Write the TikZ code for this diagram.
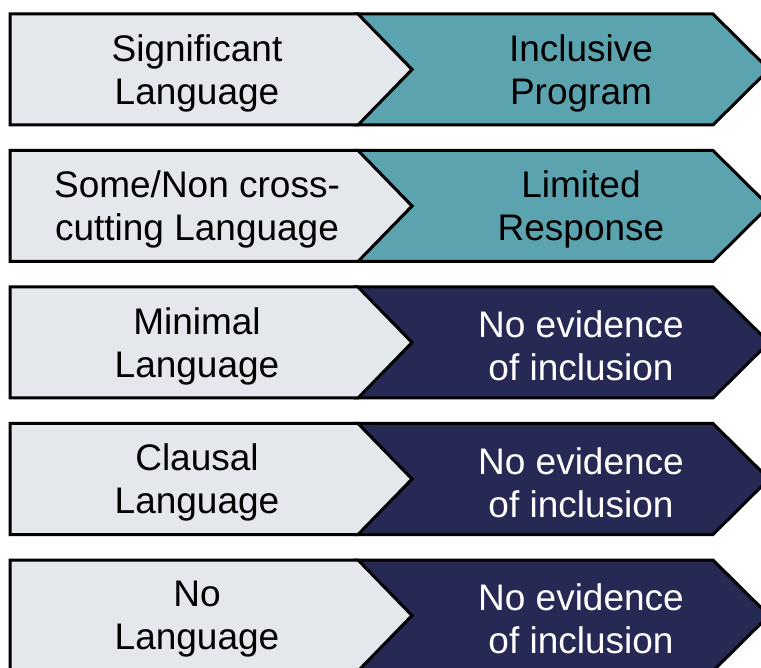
\documentclass[tikz,border=0pt]{standalone}
\usepackage{fontspec}
\setmainfont{Liberation Sans}
\definecolor{paleGray}{HTML}{E4E7EC}
\definecolor{tealFill}{HTML}{5BA3AE}
\definecolor{navyFill}{HTML}{272955}
\begin{document}
\begin{tikzpicture}[x=1pt,y=-1pt,
  outline/.style={draw=black,line width=3pt,line join=miter},
  label/.style={font=\fontsize{37}{43}\selectfont,align=center,inner sep=0pt}]
\useasboundingbox (0,0) rectangle (761,668);
\begin{scope}
\clip (0,0) rectangle (761,668);
% one row: #1 top edge, #2 chevron colour, #3 left text, #4 right text, #5 text colour, #6 name
\newcommand\levelrow[6]{%
  \path[outline,fill=#2] (357,#1) -- (713,#1) -- ++(56,55.5) -- (713,#1+111)
     -- (357,#1+111) -- (412,#1+55.5) -- cycle;
  \path[outline,fill=paleGray] (10,#1) -- (358,#1) -- (412,#1+55.5)
     -- (358,#1+111) -- (10,#1+111) -- cycle;
  \node[label] (#6a) at (197,#1+59) {#3};
  \node[label,text=#5] (#6b) at (581,#1+59) {#4};
}
\levelrow{14}{tealFill}{Significant\\Language}{Inclusive\\Program}{black}{r1}
\levelrow{150.5}{tealFill}{Some/Non cross-\\cutting Language}{Limited\\Response}{black}{r2}
\levelrow{287}{navyFill}{Minimal\\Language}{No evidence\\of inclusion}{white}{r3}
\levelrow{423.5}{navyFill}{Clausal\\Language}{No evidence\\of inclusion}{white}{r4}
\levelrow{560}{navyFill}{No\\Language}{No evidence\\of inclusion}{white}{r5}
\end{scope}
\end{tikzpicture}
\end{document}
